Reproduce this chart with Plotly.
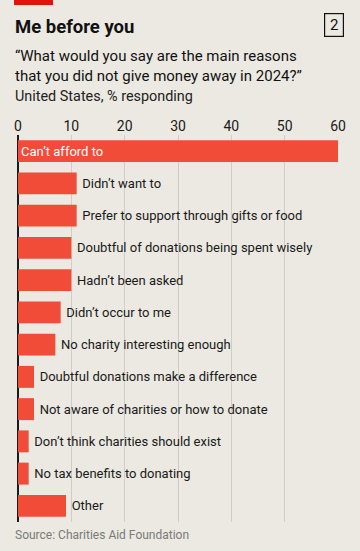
import plotly.graph_objects as go

categories = [
    "Can’t afford to",
    "Didn’t want to",
    "Prefer to support through gifts or food",
    "Doubtful of donations being spent wisely",
    "Hadn’t been asked",
    "Didn’t occur to me",
    "No charity interesting enough",
    "Doubtful donations make a difference",
    "Not aware of charities or how to donate",
    "Don’t think charities should exist",
    "No tax benefits to donating",
    "Other",
]
values = [60, 11, 11, 10, 10, 8, 7, 3, 3, 2, 2, 9]
tick_vals = [0, 10, 20, 30, 40, 50, 60]

BG = "#ebe9e1"
RED = "#f04c38"
FONT = "Roboto"

positions = ["inside"] + ["outside"] * (len(values) - 1)
templates = ["%{text}"] + ["\u2009%{text}"] * (len(values) - 1)

fig = go.Figure()
fig.add_trace(go.Bar(
    x=values,
    y=categories,
    orientation="h",
    marker=dict(color=RED, line=dict(width=0)),
    text=categories,
    texttemplate=templates,
    textposition=positions,
    insidetextanchor="start",
    insidetextfont=dict(color="white", size=13, family=FONT),
    outsidetextfont=dict(color="#1a1a1a", size=13, family=FONT),
    cliponaxis=False,
    hoverinfo="skip",
))

fig.update_layout(
    width=360, height=551,
    paper_bgcolor=BG, plot_bgcolor=BG,
    margin=dict(l=18, r=22, t=135, b=29),
    bargap=0.32,
    showlegend=False,
    font=dict(family=FONT, color="#1a1a1a"),
    xaxis=dict(
        range=[0, 60], side="top", tickvals=tick_vals,
        showgrid=True, gridcolor="#cfcdc6", gridwidth=1,
        zeroline=True, zerolinecolor="#1a1a1a", zerolinewidth=1.5,
        ticks="", tickfont=dict(size=14, family=FONT, color="#1a1a1a"),
        fixedrange=True,
    ),
    yaxis=dict(
        autorange="reversed", showticklabels=False, showgrid=False,
        zeroline=False, ticks="", fixedrange=True,
    ),
    uniformtext=dict(mode=False),
)

fig.add_shape(type="rect", xref="paper", yref="paper",
              x0=-4/320, x1=35/320, y0=1 + 130/387, y1=1 + 136/387,
              fillcolor="#e3120b", line=dict(width=0))

fig.add_annotation(text="<b>Me before you</b>", xref="paper", yref="paper",
                   x=-5/320, y=(551 - 27 - 29) / 387, xanchor="left", yanchor="middle",
                   showarrow=False, font=dict(size=18.5, family=FONT, color="#111111"))
fig.add_annotation(text="2", xref="paper", yref="paper",
                   x=(334 - 18) / 320, y=(551 - 25 - 29) / 387, xanchor="center", yanchor="middle",
                   showarrow=False, font=dict(size=15, family=FONT, color="#111111"),
                   bordercolor="#111111", borderwidth=1.2, borderpad=2, width=14)
fig.add_annotation(text="“What would you say are the main reasons<br>that you did not give money away in 2024?”",
                   xref="paper", yref="paper",
                   x=-5/320, y=(551 - 45 - 29) / 387, xanchor="left", yanchor="top", align="left",
                   showarrow=False, font=dict(size=15, family=FONT, color="#111111"))
fig.add_annotation(text="United States, % responding",
                   xref="paper", yref="paper",
                   x=-5/320, y=(551 - 97 - 29) / 387, xanchor="left", yanchor="middle", align="left",
                   showarrow=False, font=dict(size=14.4, family=FONT, color="#222222"))
fig.add_annotation(text="Source: Charities Aid Foundation",
                   xref="paper", yref="paper",
                   x=-5/320, y=(551 - 535 - 29) / 387, xanchor="left", yanchor="middle", align="left",
                   showarrow=False, font=dict(size=12, family=FONT, color="#7a7a7a"))

fig.write_html("out.html", config={"displayModeBar": False},
               post_script="document.body.style.margin='0';document.body.style.overflow='hidden';")
